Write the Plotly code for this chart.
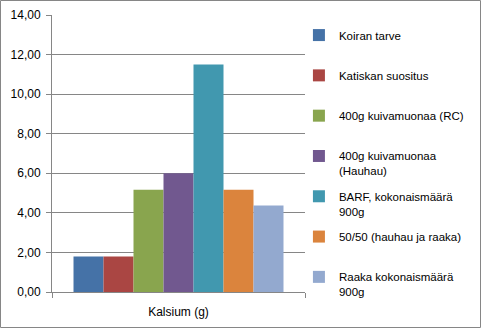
import plotly.graph_objects as go

categories = ["Kalsium (g)"]
series_names = ["Koiran tarve", "Katiskan suositus", "400g kuivamuonaa (RC)",
                "400g kuivamuonaa<br>(Hauhau)", "BARF, kokonaismäärä<br>900g",
                "50/50 (hauhau ja raaka)", "Raaka kokonaismäärä<br>900g"]
values = [1.8, 1.8, 5.17, 6.0, 11.5, 5.17, 4.37]
colors = ["#4572A7", "#AA4643", "#89A54E", "#71588F", "#4198AF", "#DB843D", "#93A9CF"]
tick_vals = [0, 2, 4, 6, 8, 10, 12, 14]
tick_text = ["0,00", "2,00", "4,00", "6,00", "8,00", "10,00", "12,00", "14,00"]

W, H = 481, 328
L, R, T, B = 52, 176, 15, 36

fig = go.Figure()
for i, (n, v, c) in enumerate(zip(series_names, values, colors)):
    name = n if "<br>" in n else n + "<br> "
    fig.add_trace(go.Bar(x=categories, y=[v], name=name, marker=dict(color=c, line=dict(width=0)),
                         legendgroup=str(i)))

pw = W - L - R
ph = H - T - B
fig.add_shape(type="rect", xref="paper", yref="paper",
              x0=-(L - 0.5) / pw, x1=(W - L - 0.5) / pw,
              y0=-(B - 0.5) / ph, y1=(H - B - 0.5) / ph,
              line=dict(color="#868686", width=1), layer="below")

fig.update_layout(
    width=W, height=H,
    margin=dict(l=L, r=R, t=T, b=B, autoexpand=False),
    paper_bgcolor="white", plot_bgcolor="white",
    barmode="group", bargap=0.17, bargroupgap=0,
    font=dict(family="Liberation Sans", size=11.5, color="#000000"),
    showlegend=True,
    legend=dict(x=0.976, y=0.978, xanchor="left", yanchor="top",
                traceorder="grouped", tracegroupgap=7.4, valign="top",
                bgcolor="rgba(0,0,0,0)",
                itemwidth=30, font=dict(size=11.5)),
    xaxis=dict(showline=True, linecolor="#868686", linewidth=1, ticks="outside",
               tickson="boundaries", ticklen=5, tickcolor="#868686",
               tickfont=dict(size=12), ticklabelstandoff=9,
               showgrid=False),
    yaxis=dict(range=[0, 14], tickvals=tick_vals, ticktext=tick_text,
               showline=True, linecolor="#868686", linewidth=1,
               ticks="outside", ticklen=5, tickcolor="#868686",
               tickfont=dict(size=12), ticklabelstandoff=3,
               showgrid=True, gridcolor="#868686", gridwidth=1, zeroline=False),
)
try:
    fig.update_layout(legend_maxheight=320)
except Exception:
    pass

fig.write_html("out.html")
